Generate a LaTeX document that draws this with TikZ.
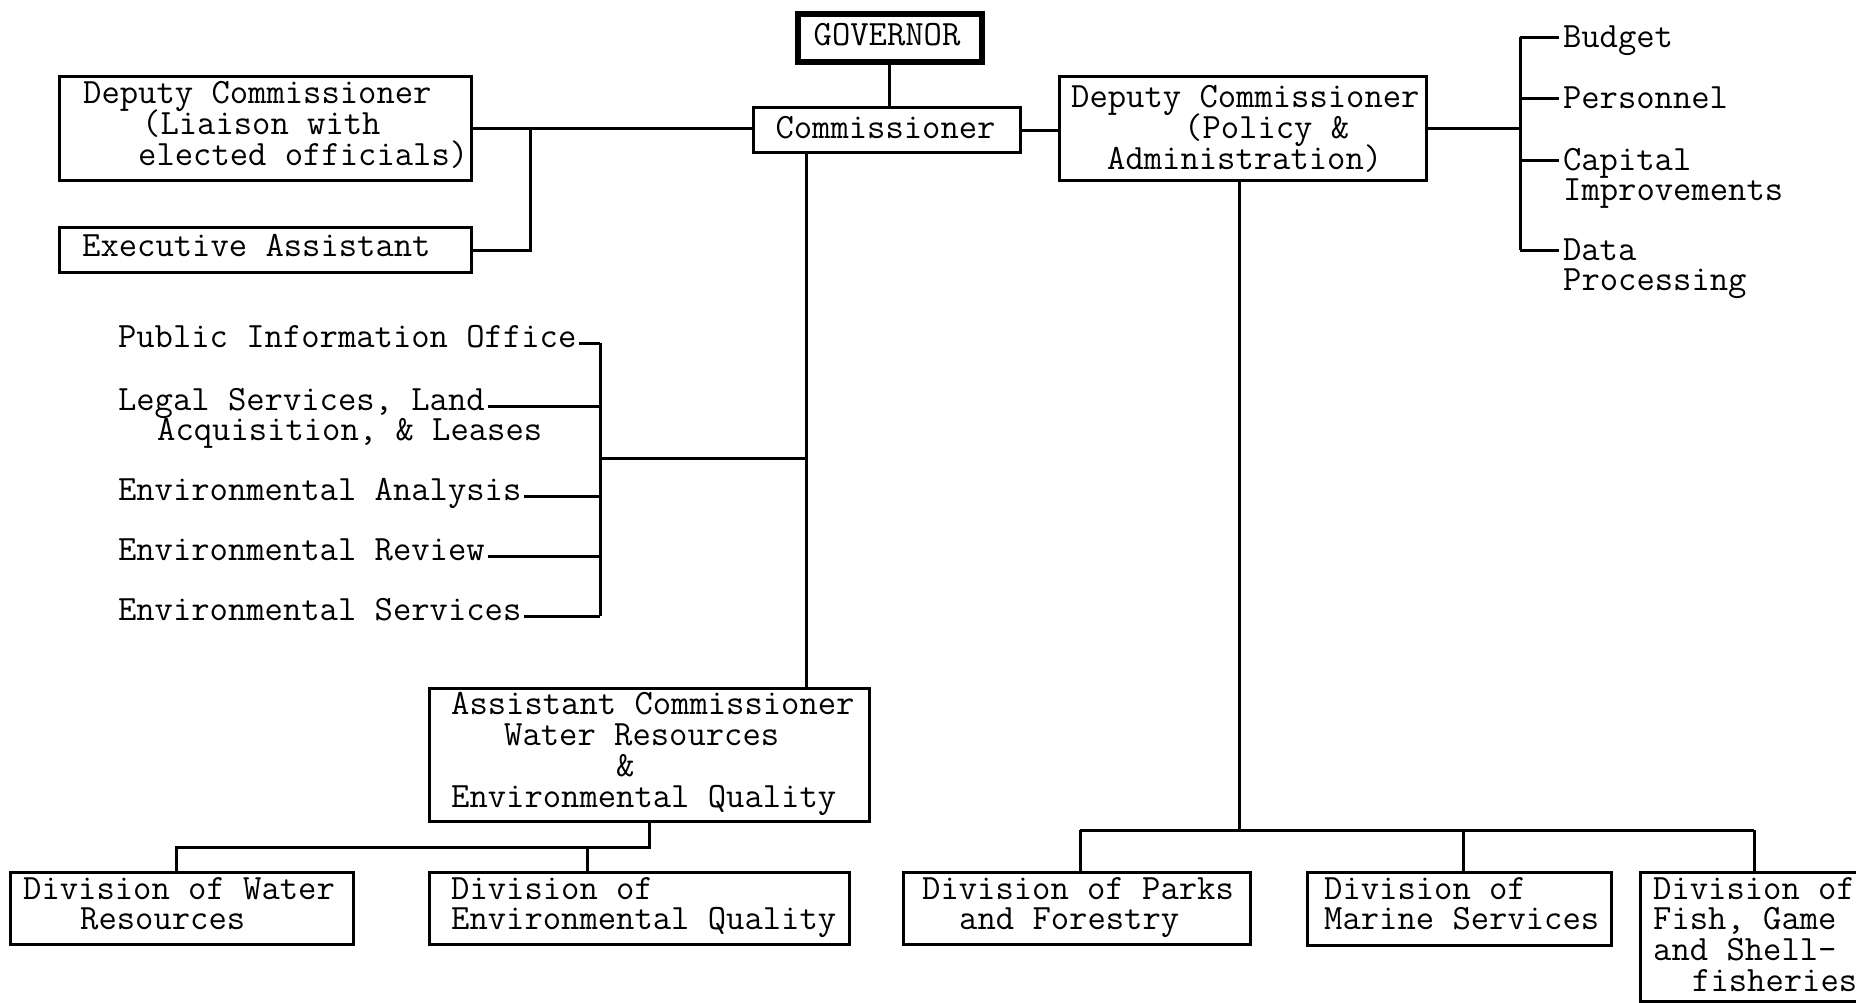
\documentclass[tikz,border=0pt]{standalone}
\usetikzlibrary{calc}
\newcommand\orgfont{\ttfamily\fontsize{35.6pt}{36pt}\selectfont}
\begin{document}
\begin{tikzpicture}[x=1pt,y=-1pt,
  box/.style={draw, line width=3.2pt, inner sep=0pt, anchor=north west},
  txt/.style={inner sep=0pt, anchor=base west, font=\orgfont, text height=18pt, text depth=4pt},
  ltxt/.style={inner sep=0pt, outer sep=3pt, anchor=base west, font=\orgfont, text height=16pt, text depth=8pt},
  rtxt/.style={inner sep=0pt, outer sep=4pt, anchor=west, font=\orgfont, text height=20pt, text depth=0pt},
  wire/.style={line width=3pt}]
\useasboundingbox (0,0) rectangle (1856,1002);
\fill[white] (0,0) rectangle (1856,1002);
\clip (0,0) rectangle (1856,1002);

% boxes
\node[box, line width=5.5pt, minimum width=184pt, minimum height=48pt] (gov) at (795,11) {};
\node[font=\orgfont, inner sep=0pt, anchor=base] (govt) at (887,45) {GOVERNOR};
\node[box, minimum width=267pt, minimum height=45pt] (comm) at (752,106) {};
\node[font=\orgfont, inner sep=0pt, anchor=base] (commt) at (885.5,138) {Commissioner};
\node[box, minimum width=412pt, minimum height=104pt] (liaison) at (58,75) {};
\node[box, minimum width=412pt, minimum height=45pt] (exec) at (58,226) {};
\node[box, minimum width=367pt, minimum height=104pt] (policy) at (1058,75) {};
\node[box, minimum width=440pt, minimum height=133pt] (ac) at (428,687) {};
\node[box, minimum width=343pt, minimum height=72pt] (dw) at (9,871) {};
\node[box, minimum width=420pt, minimum height=72pt] (deq) at (428,871) {};
\node[box, minimum width=347pt, minimum height=72pt] (parks) at (902,871) {};
\node[box, minimum width=304pt, minimum height=73pt] (marine) at (1306,871) {};
\node[box, minimum width=260pt, minimum height=129pt] (fish) at (1639,871) {};

% texts in boxes
\node[txt] (li1) at (83,103.5) {Deputy Commissioner};
\node[txt] (li2) at (142,134) {(Liaison with};
\node[txt] (li3) at (138,165) {elected officials)};
\node[txt] (ex1) at (82,256) {Executive Assistant};
\node[txt] (po1) at (1071,107) {Deputy Commissioner};
\node[txt] (po2) at (1184,138) {(Policy \&};
\node[txt] (po3) at (1107,169) {Administration)};
\node[txt] (ac1) at (451,714) {Assistant Commissioner};
\node[txt] (ac2) at (504,745) {Water Resources};
\node[txt] (ac3) at (616,776) {\&};
\node[txt] (ac4) at (451,807) {Environmental Quality};
\node[txt] (dw1) at (23,899) {Division of Water};
\node[txt] (dw2) at (80,929) {Resources};
\node[txt] (dq1) at (451,899) {Division of};
\node[txt] (dq2) at (451,929) {Environmental Quality};
\node[txt] (pk1) at (922,899) {Division of Parks};
\node[txt] (pk2) at (959,929) {and Forestry};
\node[txt] (mr1) at (1324,899) {Division of};
\node[txt] (mr2) at (1324,929) {Marine Services};
\node[txt] (fs1) at (1653,899) {Division of};
\node[txt] (fs2) at (1653,929) {Fish, Game};
\node[txt] (fs3) at (1653,960) {and Shell-};
\node[txt] (fs4) at (1692,991) {fisheries};

% right list
\node[rtxt] (budget) at (1559,37) {Budget};
\node[rtxt] (personnel) at (1559,98) {Personnel};
\node[rtxt] (capital) at (1559,160) {Capital};
\node[txt] (improv) at (1563,200) {Improvements};
\node[rtxt] (data) at (1559,250) {Data};
\node[txt] (proc) at (1563,290) {Processing};

% left list
\node[ltxt] (pio) at (115,347) {Public Information Office};
\node[ltxt] (legal) at (115,410) {Legal Services, Land};
\node[txt] (acq) at (157,440) {Acquisition, \& Leases};
\node[ltxt] (anal) at (115,500) {Environmental Analysis};
\node[ltxt] (rev) at (115,560) {Environmental Review};
\node[ltxt] (serv) at (115,620) {Environmental Services};

% coordinates
\coordinate (lj) at (530,0);
\coordinate (rs) at (1520,0);
\coordinate (cv) at (806,0);
\coordinate (ls) at (600,458);
\coordinate (acd) at (649,847);
\coordinate (dwd) at (176,847);
\coordinate (dqd) at (587,847);
\coordinate (pd) at (1239,830);
\coordinate (pkd) at (1080,830);
\coordinate (mrd) at (1463,830);
\coordinate (fsd) at (1754,830);

% connectors
\draw[wire] (gov.south) -- (comm.north -| gov.south);
\draw[wire] (liaison.east) -- (comm.west |- liaison.east);
\draw[wire] (liaison.east -| lj) |- (exec.east);
\draw[wire] (comm.east) -- (policy.west |- comm.east);
\draw[wire] (policy.east) -- (policy.east -| rs);
\draw[wire] (budget.west -| rs) -- (data.west -| rs);
\foreach \n in {budget,personnel,capital,data}
  \draw[wire] (\n.west -| rs) -- (\n.west);
\draw[wire] (comm.south -| cv) -- (ac.north -| cv);
\draw[wire] (ls) -- (ls -| cv);
\draw[wire] (pio.east -| ls) -- (serv.east -| ls);
\foreach \n in {pio,legal,anal,rev,serv}
  \draw[wire] (\n.east) -- (\n.east -| ls);
\draw[wire] (ac.south -| acd) -- (acd) -- (dwd) -- (dw.north -| dwd);
\draw[wire] (dqd) -- (deq.north -| dqd);
\draw[wire] (policy.south -| pd) -- (pd);
\draw[wire] (pkd) -- (fsd);
\draw[wire] (pkd) -- (parks.north -| pkd);
\draw[wire] (mrd) -- (marine.north -| mrd);
\draw[wire] (fsd) -- (fish.north -| fsd);
\end{tikzpicture}
\end{document}
